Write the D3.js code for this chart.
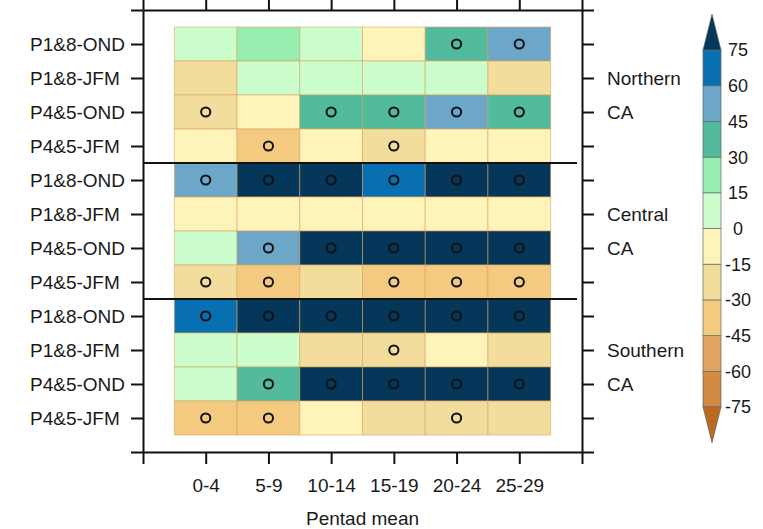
<!DOCTYPE html>
<html>
<head>
<meta charset="utf-8">
<script src="https://cdn.jsdelivr.net/npm/d3@7"></script>
<style>
  body { margin: 0; background: #fff; }
  svg text { font-family: "Liberation Sans", Arial, Helvetica, sans-serif; fill: #1a1a1a; }
</style>
</head>
<body>
<svg id="chart" width="763" height="529"></svg>
<script>
var pentads = ["0-4", "5-9", "10-14", "15-19", "20-24", "25-29"];
var rowLabels = ["P1&8-OND", "P1&8-JFM", "P4&5-OND", "P4&5-JFM"];
var regionLabels = [["Northern", "CA"], ["Central", "CA"], ["Southern", "CA"]];

var northVals = [
  [6, 21, 9, -5, 37, 50],
  [-20, 7, 10, 8, 11, -23],
  [-24, -6, 39, 36, 53, 40],
  [-8, -35, -4, -19, -6, -7]
];
var centralVals = [
  [48, 92, 96, 70, 88, 86],
  [-3, -5, -4, -6, -5, -4],
  [4, 51, 83, 90, 94, 89],
  [-23, -38, -19, -33, -36, -34]
];
var southVals = [
  [65, 84, 91, 95, 93, 97],
  [9, 6, -21, -18, -9, -22],
  [5, 41, 88, 92, 90, 87],
  [-37, -34, -11, -20, -26, -24]
];
// 1 = significant (circle)
var northSig = [[0,0,0,0,1,1],[0,0,0,0,0,0],[1,0,1,1,1,1],[0,1,0,1,0,0]];
var centralSig = [[1,1,1,1,1,1],[0,0,0,0,0,0],[0,1,1,1,1,1],[1,1,0,1,1,1]];
var southSig = [[1,1,1,1,1,1],[0,0,0,1,0,0],[0,1,1,1,1,1],[1,1,0,0,1,0]];

var levels = [-75, -60, -45, -30, -15, 0, 15, 30, 45, 60, 75];
var colors = ["#bc6a22", "#d08a42", "#e0a462", "#f4ca80", "#f3dd9c", "#fef4ba",
              "#ccfdcc", "#98eeb0", "#53bb9d", "#6ca7c9", "#0870b0", "#04375a"];

var svg = d3.select("#chart");

var x = d3.scaleLinear().domain([-1, 6]).range([143, 582]);
var y = d3.scaleLinear().domain([-1, 12]).range([10, 452]);
var color = d3.scaleThreshold().domain(levels).range(colors);

var vals = northVals.concat(centralVals, southVals);
var sigs = northSig.concat(centralSig, southSig);

var cells = [];
vals.forEach(function(row, r) {
  row.forEach(function(v, c) {
    cells.push({r: r, c: c, v: v, s: sigs[r][c]});
  });
});

// cells
svg.append("g").selectAll("rect")
  .data(cells).enter().append("rect")
  .attr("x", function(d) { return x(d.c - 0.5); })
  .attr("y", function(d) { return y(d.r - 0.5); })
  .attr("width", x(1) - x(0))
  .attr("height", y(1) - y(0))
  .attr("fill", function(d) { return color(d.v); })
  .attr("stroke", "rgba(214,160,90,0.55)")
  .attr("stroke-width", 1);

// significance circles
svg.append("g").selectAll("circle")
  .data(cells.filter(function(d) { return d.s; })).enter().append("circle")
  .attr("cx", function(d) { return x(d.c); })
  .attr("cy", function(d) { return y(d.r); })
  .attr("r", 4.6)
  .attr("fill", "none")
  .attr("stroke", "#111")
  .attr("stroke-width", 2);

// region separators
[3.5, 7.5].forEach(function(b) {
  svg.append("line")
    .attr("x1", x(-1)).attr("x2", x(5.92))
    .attr("y1", y(b)).attr("y2", y(b))
    .attr("stroke", "#111").attr("stroke-width", 2);
});

// axes
var xt = d3.range(-1, 7), yt = d3.range(-1, 13);
function styleAxis(g) {
  g.selectAll("path, line").attr("stroke", "#111").attr("stroke-width", 2);
  g.selectAll("text").style("font-size", "19px").attr("fill", "#1a1a1a");
}
svg.append("g").attr("transform", "translate(0," + y(12) + ")")
  .call(d3.axisBottom(x).tickValues(xt).tickSize(12).tickSizeOuter(0).tickPadding(15)
    .tickFormat(function(d) { return pentads[d] || ""; }))
  .call(styleAxis);
svg.append("g").attr("transform", "translate(0," + y(-1) + ")")
  .call(d3.axisTop(x).tickValues(xt).tickSize(12).tickSizeOuter(0).tickFormat(""))
  .call(styleAxis);
svg.append("g").attr("transform", "translate(" + x(-1) + ",0)")
  .call(d3.axisLeft(y).tickValues(yt).tickSize(12).tickSizeOuter(0).tickFormat(""))
  .call(styleAxis);
var rightText = {};
regionLabels.forEach(function(p, i) { rightText[i * 4 + 1] = p[0]; rightText[i * 4 + 2] = p[1]; });
svg.append("g").attr("transform", "translate(" + x(6) + ",0)")
  .call(d3.axisRight(y).tickValues(yt).tickSize(12).tickSizeOuter(0).tickPadding(13)
    .tickFormat(function(d) { return rightText[d] || ""; }))
  .call(styleAxis);

// left row labels (left aligned)
svg.append("g").selectAll("text")
  .data(d3.range(12)).enter().append("text")
  .attr("x", 30)
  .attr("y", function(d) { return y(d); })
  .attr("dy", "0.35em")
  .style("font-size", "19px")
  .text(function(d) { return rowLabels[d % 4]; });

svg.append("text")
  .attr("x", (x(-1) + x(6)) / 2)
  .attr("y", 525)
  .attr("text-anchor", "middle")
  .style("font-size", "19px")
  .attr("fill", "#333")
  .text("Pentad mean");

// colour bar
var cb = d3.scaleLinear().domain([-75, 75]).range([407, 50]);
var bx = 703, bw = 18, step = cb(-75) - cb(-60);
var boxes = d3.range(levels.length - 1).map(function(i) {
  return {lo: levels[i], hi: levels[i + 1], c: colors[i + 1]};
});
var bar = svg.append("g");
bar.selectAll("rect").data(boxes).enter().append("rect")
  .attr("x", bx).attr("width", bw)
  .attr("y", function(d) { return cb(d.hi); })
  .attr("height", function(d) { return cb(d.lo) - cb(d.hi); })
  .attr("fill", function(d) { return d.c; })
  .attr("stroke", "#666").attr("stroke-width", 0.7);
bar.append("path")
  .attr("d", "M" + bx + "," + cb(75) + "L" + (bx + bw / 2) + "," + (cb(75) - step) + "L" + (bx + bw) + "," + cb(75) + "Z")
  .attr("fill", colors[colors.length - 1]).attr("stroke", "#666").attr("stroke-width", 0.7);
bar.append("path")
  .attr("d", "M" + bx + "," + cb(-75) + "L" + (bx + bw / 2) + "," + (cb(-75) + step) + "L" + (bx + bw) + "," + cb(-75) + "Z")
  .attr("fill", colors[0]).attr("stroke", "#666").attr("stroke-width", 0.7);
bar.selectAll("text").data(levels).enter().append("text")
  .attr("x", 738)
  .attr("y", function(d) { return cb(d); })
  .attr("dy", "0.36em")
  .attr("text-anchor", "middle")
  .style("font-size", "18px")
  .text(function(d) { return d; });
</script>
</body>
</html>
